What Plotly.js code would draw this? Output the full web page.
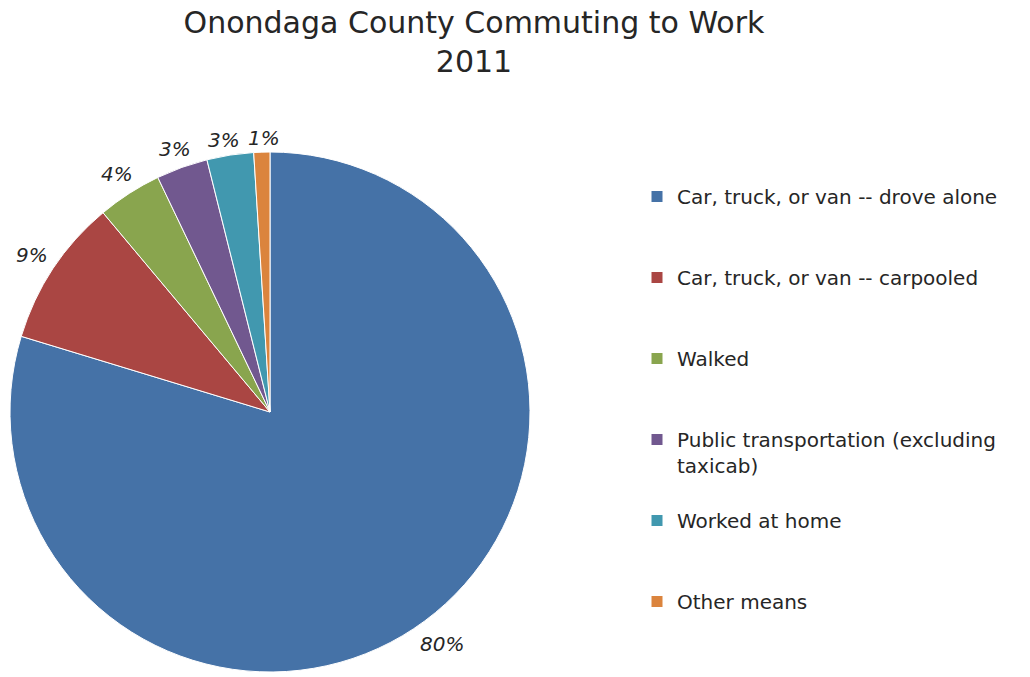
<!DOCTYPE html>
<html>
<head>
<meta charset="utf-8">
<script src="https://cdn.plot.ly/plotly-3.0.1.min.js"></script>
<style>html,body{margin:0;padding:0;background:#fff;}#chart{width:1030px;height:677px;}</style>
</head>
<body>
<div id="chart"></div>
<script>
const categories = [
  "Car, truck, or van -- drove alone",
  "Car, truck, or van -- carpooled",
  "Walked",
  "Public transportation (excluding<br>taxicab)",
  "Worked at home",
  "Other means"
];
const shares = [79.7, 9.2, 4.0, 3.2, 2.9, 1.0];
const colors = ["#4572A7", "#AA4643", "#89A54E", "#71588F", "#4198AF", "#DB843D"];

const W = 1030, H = 677;
const FONT = "DejaVu Sans, sans-serif";
const TXT = "#262626";

// pad legend entries so each occupies the same vertical slot
const legendLabels = categories.map(c => {
  const lines = c.split("<br>").length;
  let s = c;
  for (let i = lines; i < 3; i++) s += "<br> ";
  return s;
});

const domX = [10 / W, 530 / W];
const domY = [1 - 672 / H, 1 - 152 / H];

const trace = {
  type: "pie",
  labels: legendLabels,
  values: shares,
  sort: false,
  direction: "clockwise",
  rotation: 0,
  marker: {colors: colors, line: {color: "#ffffff", width: 1}},
  textinfo: "none",
  hoverinfo: "label+percent",
  domain: {x: domX, y: domY},
  showlegend: true
};

// percentage labels placed just outside each slice, from the data
const total = shares.reduce((a, b) => a + b, 0);
const cxPx = (domX[0] + domX[1]) / 2 * W;
const cyPx = (1 - (domY[0] + domY[1]) / 2) * H;
const rPx = Math.min((domX[1] - domX[0]) * W, (domY[1] - domY[0]) * H) / 2;
let cum = 0;
const lab = shares.map(v => {
  const frac = v / total;
  const mid = (cum + frac / 2) * 2 * Math.PI;
  cum += frac;
  const pct = Math.round(frac * 100) + "%";
  const s = Math.sin(mid), c = Math.cos(mid);
  const tw = 19 * pct.length, th = 20;
  const d = rPx + 4 + Math.abs(s) * tw / 2 + Math.abs(c) * th / 2;
  return {pct: pct, px: cxPx + d * s, py: cyPx - d * c, w: 16 * pct.length};
});
// simple horizontal de-overlap of neighbouring labels
for (let i = 1; i < lab.length; i++) {
  const a = lab[i - 1], b = lab[i];
  const need = (a.w + b.w) / 2 + 8;
  const dx = Math.abs(b.px - a.px), dy = Math.abs(b.py - a.py);
  if (dx < need && dy < 22) {
    const shift = (need - dx) / 2;
    if (b.px >= a.px) { b.px += shift; a.px -= shift; a.py += shift / 2; }
    else { b.px -= shift; a.px += shift; }
  }
}
const annotations = lab.map(l => ({
  x: l.px / W, y: 1 - l.py / H, xref: "paper", yref: "paper",
  xanchor: "center", yanchor: "middle", showarrow: false,
  text: "<i>" + l.pct + "</i>",
  font: {family: FONT, size: 20, color: TXT}
}));

const layout = {
  width: W,
  height: H,
  margin: {l: 0, r: 0, t: 0, b: 0},
  paper_bgcolor: "#ffffff",
  title: {
    text: "Onondaga County Commuting to Work<br>2011",
    font: {family: FONT, size: 30, color: TXT},
    x: 474 / W, xanchor: "center",
    yref: "container", y: 0.951, yanchor: "top"
  },
  legend: {
    x: 637 / W, xanchor: "left",
    y: 1 - 177 / H, yanchor: "top",
    valign: "top",
    font: {family: FONT, size: 20, color: TXT}
  },
  annotations: annotations,
  showlegend: true
};

Plotly.newPlot("chart", [trace], layout, {displayModeBar: false, staticPlot: true});
</script>
</body>
</html>
